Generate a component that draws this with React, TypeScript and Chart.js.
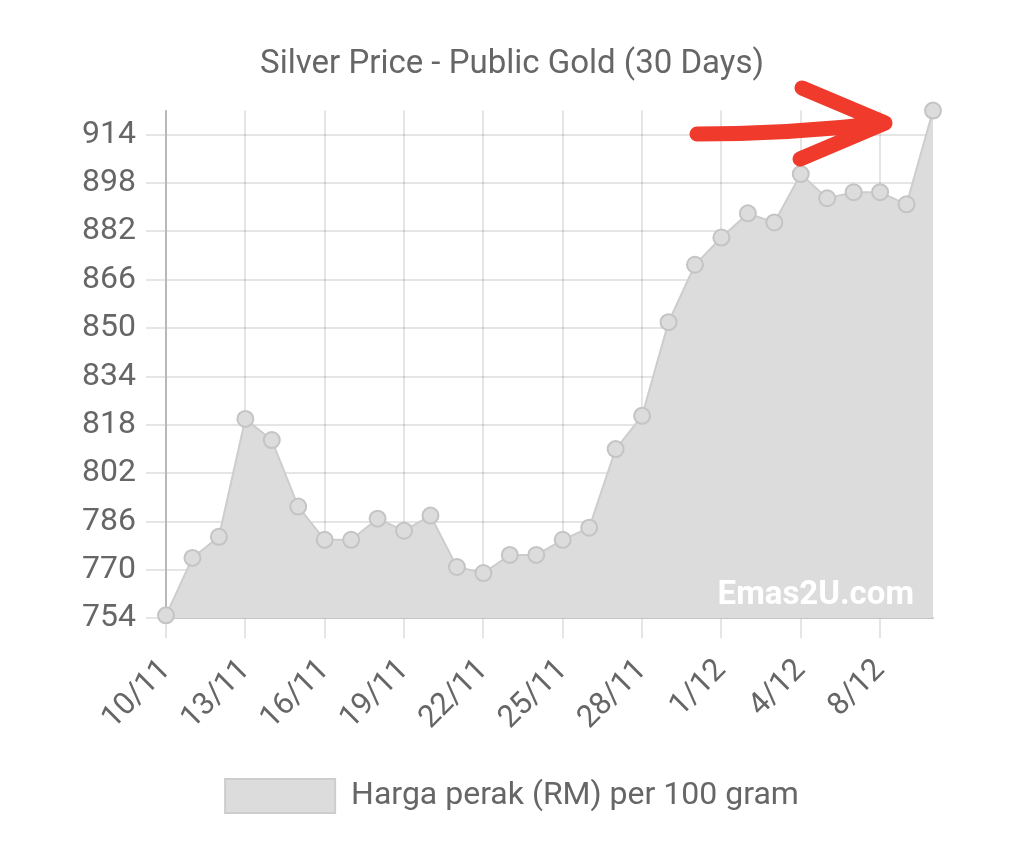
import { useEffect, useRef } from 'react';
import { Chart, ChartConfiguration, Plugin } from 'chart.js/auto';

// tanggal (sesetengah hari tiada dalam data)
const DATES = [
  '10/11', '11/11', '12/11', '13/11', '14/11', '15/11', '16/11', '17/11', '18/11', '19/11',
  '20/11', '21/11', '22/11', '23/11', '24/11', '25/11', '26/11', '27/11', '28/11', '29/11',
  '30/11', '1/12', '2/12', '3/12', '4/12', '5/12', '6/12', '8/12', '9/12', '10/12',
];

// harga perak RM / 100 gram
const PRICES = [
  755, 774, 781, 820, 813, 791, 780, 780, 787, 783,
  788, 771, 769, 775, 775, 780, 784, 810, 821, 852,
  871, 880, 888, 885, 901, 893, 895, 895, 891, 922,
];

const Y_TICKS = [754, 770, 786, 802, 818, 834, 850, 866, 882, 898, 914];
const Y_MIN = 754;
const Y_MAX = 922;
const LABEL_EVERY = 3;

const FONT = 'Roboto, "Noto Sans", sans-serif';
const TEXT = '#666';

const watermark: Plugin<'line'> = {
  id: 'watermark',
  afterDatasetsDraw(chart) {
    const { ctx, chartArea } = chart;
    ctx.save();
    ctx.font = `bold 33px ${FONT}`;
    ctx.fillStyle = '#ffffff';
    ctx.textAlign = 'right';
    ctx.textBaseline = 'alphabetic';
    ctx.fillText('Emas2U.com', chartArea.right - 19, chartArea.bottom - 14);
    ctx.restore();
  },
};

// coretan anak panah merah (tangan)
const redArrow: Plugin<'line'> = {
  id: 'redArrow',
  afterDraw(chart) {
    const { ctx } = chart;
    ctx.save();
    ctx.strokeStyle = '#ef3a2c';
    ctx.lineWidth = 15;
    ctx.lineCap = 'round';
    ctx.lineJoin = 'round';
    ctx.beginPath();
    ctx.moveTo(697, 134);
    ctx.quadraticCurveTo(790, 134, 885, 123);
    ctx.moveTo(802, 88);
    ctx.lineTo(885, 123);
    ctx.lineTo(800, 159);
    ctx.stroke();
    ctx.restore();
  },
};

export default function App() {
  const canvasRef = useRef<HTMLCanvasElement>(null);
  const chartRef = useRef<Chart | null>(null);

  useEffect(() => {
    document.body.style.margin = '0';
    if (!canvasRef.current) return;
    const ctx = canvasRef.current.getContext('2d');
    if (!ctx) return;

    if (chartRef.current) chartRef.current.destroy();

    const config: ChartConfiguration<'line'> = {
      type: 'line',
      data: {
        labels: DATES,
        datasets: [
          {
            label: 'Harga perak (RM) per 100 gram',
            data: PRICES,
            fill: 'start',
            backgroundColor: '#dcdcdc',
            borderColor: '#cdcdcd',
            borderWidth: 2,
            tension: 0,
            pointRadius: 8,
            pointBackgroundColor: '#dcdcdc',
            pointBorderColor: '#c4c4c4',
            pointBorderWidth: 2,
            clip: false,
          },
        ],
      },
      options: {
        responsive: false,
        animation: false,
        layout: { padding: { left: 0, right: 0, top: 37, bottom: 20 } },
        plugins: {
          title: {
            display: true,
            text: 'Silver Price - Public Gold (30 Days)',
            color: TEXT,
            font: { family: FONT, size: 33, weight: 'normal' },
            padding: { top: 8, bottom: 26 },
          },
          legend: {
            position: 'bottom',
            labels: {
              color: TEXT,
              font: { family: FONT, size: 32 },
              boxWidth: 110,
              boxHeight: 34,
              padding: 18,
            },
          },
          tooltip: { enabled: false },
        },
        scales: {
          x: {
            afterFit: (scale) => {
              scale.height += 10;
            },
            grid: {
              color: 'rgba(0,0,0,0.1)',
              lineWidth: 2,
              tickLength: 20,
            },
            border: { color: 'rgba(0,0,0,0.15)', width: 2 },
            ticks: {
              autoSkip: false,
              minRotation: 45,
              maxRotation: 45,
              padding: 14,
              color: TEXT,
              font: { family: FONT, size: 31 },
              callback: (_v, i) => (i % LABEL_EVERY === 0 ? DATES[i] : null),
            },
          },
          y: {
            min: Y_MIN,
            max: Y_MAX,
            afterBuildTicks: (scale) => {
              scale.ticks = Y_TICKS.map((value) => ({ value }));
            },
            afterFit: (scale) => {
              scale.width = 166;
            },
            grid: {
              color: 'rgba(0,0,0,0.1)',
              lineWidth: 2,
              tickLength: 20,
            },
            border: { color: 'rgba(0,0,0,0.2)', width: 2 },
            ticks: {
              padding: 10,
              color: TEXT,
              font: { family: FONT, size: 32 },
            },
          },
          // empty right-hand axis, only keeps the right margin so title/legend stay centred
          yRight: {
            position: 'right',
            min: Y_MIN,
            max: Y_MAX,
            grid: { display: false },
            border: { display: false },
            ticks: { display: false },
            afterFit: (scale) => {
              scale.width = 91;
            },
          },
        },
      },
      plugins: [watermark, redArrow],
    };

    chartRef.current = new Chart(ctx, config);

    return () => {
      if (chartRef.current) {
        chartRef.current.destroy();
        chartRef.current = null;
      }
    };
  }, []);

  return (
    <div style={{ width: 1024, height: 843, background: '#fff' }}>
      <canvas ref={canvasRef} width={1024} height={843}></canvas>
    </div>
  );
}
